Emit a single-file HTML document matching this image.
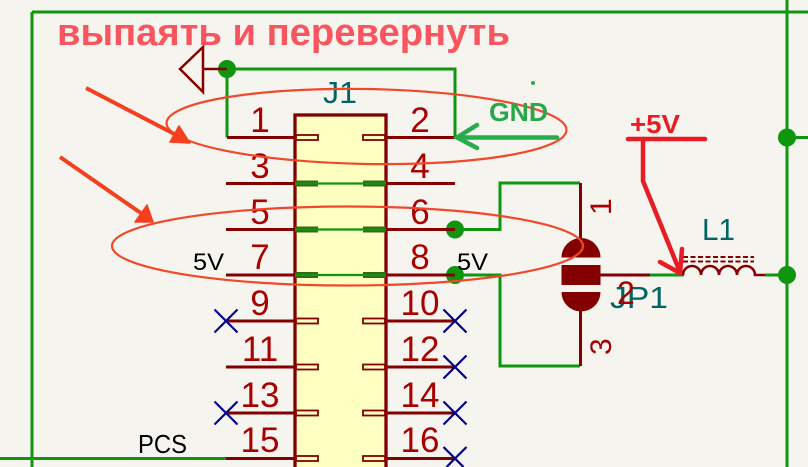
<!DOCTYPE html>
<html><head><meta charset="utf-8"><style>
html,body{margin:0;padding:0;background:#f5f4ef;width:808px;height:467px;overflow:hidden;}
svg{display:block;}
text{font-family:"Liberation Sans",sans-serif;}
</style></head><body>
<svg width="808" height="467" viewBox="0 0 808 467" xmlns="http://www.w3.org/2000/svg" overflow="hidden">
<rect width="808" height="467" fill="#f5f4ef"/>
<!-- border wires -->
<g stroke="#0e960e" stroke-width="3" fill="none">
<line x1="32" y1="12" x2="808" y2="12"/>
<line x1="32" y1="12" x2="32" y2="467"/>
<line x1="787" y1="0" x2="787" y2="467"/>
<line x1="787" y1="137.5" x2="808" y2="137.5"/>
<line x1="0" y1="458.5" x2="226" y2="458.5"/>
<!-- GND wire -->
<polyline points="227,137.5 227,69 455,69 455,137.5"/>
<!-- pin6 / pin8 wires -->
<polyline points="455,229.5 500,229.5 500,183 580,183"/>
<polyline points="455,275 500,275 500,366 580,366"/>
<line x1="650" y1="275" x2="684" y2="275"/>
<line x1="765" y1="275" x2="787" y2="275"/>
</g>
<!-- junctions -->
<g fill="#0e960e">
<circle cx="227" cy="69" r="9"/>
<circle cx="455" cy="229.5" r="9"/>
<circle cx="455" cy="275" r="9"/>
<circle cx="787" cy="137.5" r="9"/>
<circle cx="787" cy="275" r="9"/>
</g>
<!-- GND symbol -->
<g stroke="#840000" stroke-width="2.5" fill="none">
<polygon points="180,69 203,47 203,92"/>
<line x1="203" y1="69" x2="227" y2="69"/>
</g>
<!-- J1 body -->
<rect x="295" y="115" width="91" height="360" fill="#ffffc2" stroke="#840000" stroke-width="3.3"/>
<!-- pin lines -->
<g stroke="#840000" stroke-width="3">
<line x1="227" y1="137.5" x2="295" y2="137.5"/><line x1="386" y1="137.5" x2="455" y2="137.5"/>
<line x1="226" y1="183.5" x2="295" y2="183.5"/><line x1="386" y1="183.5" x2="455" y2="183.5"/>
<line x1="226" y1="229.5" x2="295" y2="229.5"/><line x1="386" y1="229.5" x2="455" y2="229.5"/>
<line x1="226" y1="275" x2="295" y2="275"/><line x1="386" y1="275" x2="455" y2="275"/>
<line x1="226" y1="321" x2="295" y2="321"/><line x1="386" y1="321" x2="455" y2="321"/>
<line x1="226" y1="367" x2="295" y2="367"/><line x1="386" y1="367" x2="455" y2="367"/>
<line x1="226" y1="413" x2="295" y2="413"/><line x1="386" y1="413" x2="455" y2="413"/>
<line x1="226" y1="458.5" x2="295" y2="458.5"/><line x1="386" y1="458.5" x2="455" y2="458.5"/>
</g>
<!-- stubs (hollow) -->
<g stroke="#840000" stroke-width="1.8" fill="#ffffc2">
<rect x="296" y="135" width="22" height="5"/><rect x="363" y="135" width="22" height="5"/>
<rect x="296" y="318.5" width="22" height="5"/><rect x="363" y="318.5" width="22" height="5"/>
<rect x="296" y="364.5" width="22" height="5"/><rect x="363" y="364.5" width="22" height="5"/>
<rect x="296" y="410.5" width="22" height="5"/><rect x="363" y="410.5" width="22" height="5"/>
<rect x="296" y="456" width="22" height="5"/><rect x="363" y="456" width="22" height="5"/>
</g>
<!-- connected stubs -->
<g fill="#3d6419">
<rect x="295" y="180.5" width="23" height="6"/><rect x="363" y="180.5" width="23" height="6"/>
<rect x="295" y="226.5" width="23" height="6"/><rect x="363" y="226.5" width="23" height="6"/>
<rect x="295" y="272" width="23" height="6"/><rect x="363" y="272" width="23" height="6"/>
</g>
<g stroke="#0e960e" stroke-width="2.2">
<line x1="295" y1="183.5" x2="386" y2="183.5"/>
<line x1="295" y1="229.5" x2="386" y2="229.5"/>
<line x1="295" y1="275" x2="386" y2="275"/>
</g>
<!-- pin numbers -->
<g fill="#a90000" font-size="35" text-anchor="middle">
<text x="260" y="132">1</text><text x="420" y="132">2</text>
<text x="260" y="178">3</text><text x="420" y="178">4</text>
<text x="260" y="224">5</text><text x="420" y="224">6</text>
<text x="260" y="269">7</text><text x="420" y="269">8</text>
<text x="260" y="315">9</text><text x="420" y="315">10</text>
<text x="260" y="361">11</text><text x="420" y="361">12</text>
<text x="260" y="407">13</text><text x="420" y="407">14</text>
<text x="260" y="452">15</text><text x="420" y="452">16</text>
</g>
<!-- no connects -->
<g stroke="#00008c" stroke-width="2.2">
<path d="M214.5,309.5 L237.5,332.5 M237.5,309.5 L214.5,332.5"/>
<path d="M214.5,401.5 L237.5,424.5 M237.5,401.5 L214.5,424.5"/>
<path d="M443.5,309.5 L466.5,332.5 M466.5,309.5 L443.5,332.5"/>
<path d="M443.5,355.5 L466.5,378.5 M466.5,355.5 L443.5,378.5"/>
<path d="M443.5,401.5 L466.5,424.5 M466.5,401.5 L443.5,424.5"/>
<path d="M443.5,447 L463.5,467 M466.5,447 L446.5,467"/>
</g>
<!-- labels -->
<g fill="#000">
<text x="193" y="270" font-size="24" textLength="31" lengthAdjust="spacingAndGlyphs">5V</text>
<text x="457" y="270" font-size="24" textLength="31" lengthAdjust="spacingAndGlyphs">5V</text>
<text x="138" y="453" font-size="26" textLength="49" lengthAdjust="spacingAndGlyphs">PCS</text>
</g>
<g fill="#006464" font-size="31">
<text x="323" y="103" textLength="34" lengthAdjust="spacingAndGlyphs">J1</text>
<text x="702" y="240" textLength="33" lengthAdjust="spacingAndGlyphs">L1</text>
<text x="610" y="308" textLength="58" lengthAdjust="spacingAndGlyphs">JP1</text>
</g>
<!-- JP1 -->
<g stroke="#840000" stroke-width="3">
<line x1="580.5" y1="183" x2="580.5" y2="240"/>
<line x1="580.5" y1="310" x2="580.5" y2="366"/>
<line x1="600" y1="275" x2="650" y2="275"/>
</g>
<g fill="#840000">
<path d="M561.5,257.5 A19.5,19.5 0 0 1 600.5,257.5 Z"/>
<rect x="561.5" y="265" width="39" height="20"/>
<path d="M561.5,292 A19.5,19.5 0 0 0 600.5,292 Z"/>
</g>
<g fill="#a90000" font-size="30">
<text transform="translate(611,215) rotate(-90)">1</text>
<text transform="translate(611,355) rotate(-90)">3</text>
<text x="617" y="304" font-size="32">2</text>
</g>
<!-- inductor -->
<g stroke="#840000" stroke-width="2.6" fill="none">
<path d="M683,275 a9,9 0 0 1 18,0 a9,9 0 0 1 18,0 a9,9 0 0 1 18,0 a9,9 0 0 1 18,0 L765,275"/>
<line x1="683" y1="257" x2="754" y2="257" stroke-width="2" stroke-dasharray="5 2.5"/>
<line x1="683" y1="261.5" x2="754" y2="261.5" stroke-width="2" stroke-dasharray="5 2.5"/>
</g>
<!-- annotations -->
<text x="57" y="45" font-size="38" font-weight="bold" fill="#f9555f" textLength="453" lengthAdjust="spacingAndGlyphs">выпаять и перевернуть</text>
<g fill="none" stroke="#f2482a" stroke-width="2.2">
<ellipse cx="366.5" cy="126.5" rx="200" ry="37.5" transform="rotate(1 366.5 126.5)"/>
<ellipse cx="347.5" cy="246" rx="235.5" ry="39.5"/>
</g>
<g fill="#f4401e" stroke="#f4401e" stroke-linejoin="round">
<line x1="86" y1="88" x2="184" y2="139" stroke-width="4"/>
<polygon points="190,143 179,126 170,142" stroke-width="1.5"/>
<line x1="60" y1="157" x2="148" y2="218" stroke-width="4"/>
<polygon points="153,222 147,205 135,222" stroke-width="1.5"/>
</g>
<!-- GND annotation -->
<g stroke="#26ad4b" stroke-width="4.5" fill="none" stroke-linecap="round">
<line x1="457" y1="137.5" x2="557" y2="137.5"/>
<polyline points="477,125 457,137.5 477,148"/>
</g>
<circle cx="533" cy="83" r="2" fill="#26ad4b"/>
<text x="489" y="121" font-size="26" font-weight="bold" fill="#29a84b" textLength="59" lengthAdjust="spacingAndGlyphs">GND</text>
<!-- +5V annotation -->
<text x="630" y="133" font-size="26" font-weight="bold" fill="#e81c24" textLength="50" lengthAdjust="spacingAndGlyphs">+5V</text>
<g stroke="#e81c24" stroke-width="4.5" fill="none" stroke-linecap="round" stroke-linejoin="round">
<line x1="628" y1="139" x2="705" y2="139"/>
<polyline points="643,139 643,181 680,272"/>
<polyline points="660,262 680,273 682,249"/>
</g>
</svg>
</body></html>
